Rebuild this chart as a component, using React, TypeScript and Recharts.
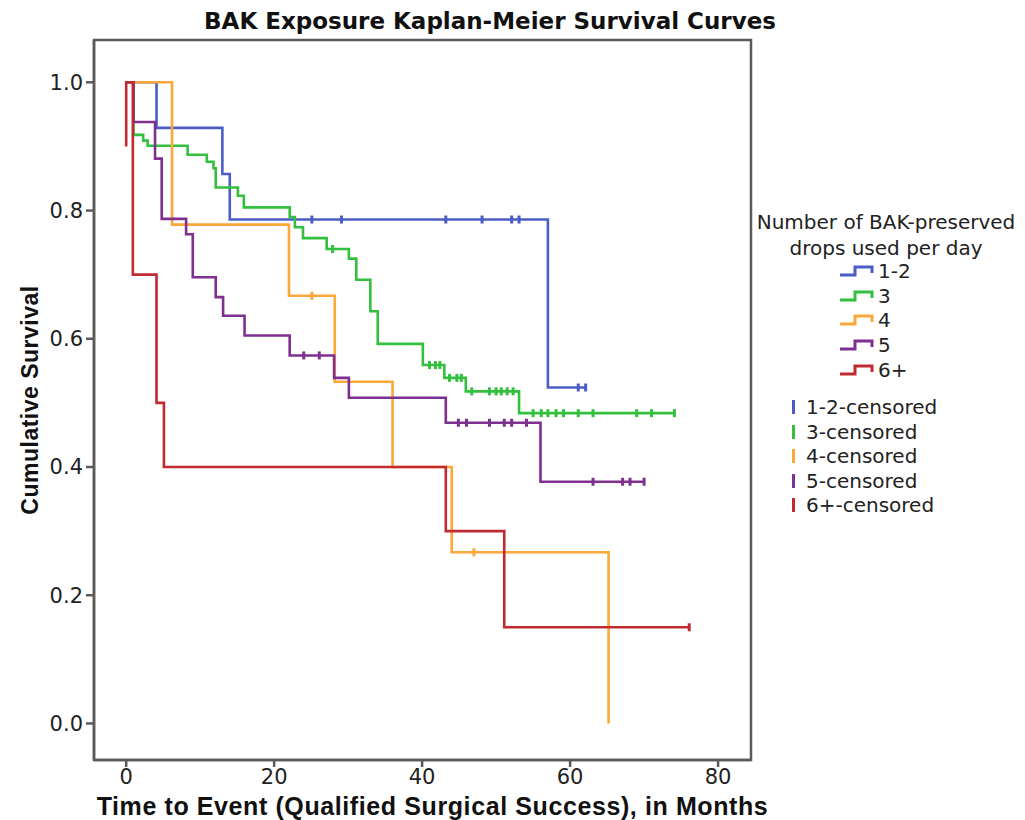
import React from "react";
import {
  ComposedChart,
  Line,
  Scatter,
  XAxis,
  YAxis,
  ReferenceArea,
} from "recharts";

// step points: survival value holds from each time until the next one
const blueTimes = [0, 4.1, 13.0, 14.0, 57.0, 62.1];
const blueSurv = [1.0, 0.929, 0.857, 0.786, 0.524, 0.524];
const blueCensored = [25.1, 29.1, 43.2, 48.1, 52.1, 53.1, 61.1, 62.1];

const greenTimes = [0, 1.0, 2.3, 2.9, 8.3, 10.9, 11.8, 12.1, 15.1, 15.9, 22.1, 22.8, 23.9, 27.1, 30.1, 31.1, 33.0, 34.0, 40.1, 43.0, 45.9, 53.1, 74.1];
const greenSurv = [1.0, 0.918, 0.909, 0.901, 0.887, 0.876, 0.866, 0.836, 0.823, 0.805, 0.79, 0.774, 0.757, 0.74, 0.725, 0.692, 0.643, 0.592, 0.559, 0.539, 0.518, 0.484, 0.484];
const greenCensored = [27.9, 41.0, 41.8, 42.4, 43.7, 44.7, 45.3, 46.7, 49.1, 50.0, 50.7, 51.5, 52.3, 55.0, 56.1, 57.0, 58.1, 59.1, 61.1, 63.1, 69.0, 71.0, 74.1];

const orangeTimes = [0, 6.2, 22.0, 28.2, 36.0, 44.0, 65.2];
const orangeSurv = [1.0, 0.778, 0.667, 0.533, 0.4, 0.267, 0];
const orangeCensored = [25.1, 47.0];

const purpleTimes = [0, 1.0, 3.9, 4.8, 8.1, 9.0, 12.1, 13.1, 16.0, 22.1, 28.1, 30.1, 43.2, 56.0, 70.0];
const purpleSurv = [1.0, 0.938, 0.881, 0.787, 0.763, 0.696, 0.665, 0.636, 0.605, 0.574, 0.539, 0.508, 0.469, 0.377, 0.377];
const purpleCensored = [24.0, 26.1, 44.9, 46.0, 49.1, 51.1, 52.1, 54.1, 63.1, 67.1, 68.1, 70.0];

const redTimes = [0, 0, 0.9, 4.1, 5.1, 43.2, 51.1, 76.1];
const redSurv = [0.9, 1.0, 0.7, 0.5, 0.4, 0.3, 0.15, 0.15];
const redCensored = [76.1];

const groupLabels = ["1-2", "3", "4", "5", "6+"];
const groupColors = ["#4b5cc6", "#33c03e", "#fba73a", "#7e2f8f", "#c12a31"];

const xTicks = [0, 20, 40, 60, 80];
const yTicks = [0, 0.2, 0.4, 0.6, 0.8, 1.0];
const xDomain = [-4.35, 84.45];
const yDomain = [-0.057, 1.066];

const toPoints = (times: number[], surv: number[]) =>
  times.map((t, i) => ({ x: t, y: surv[i] }));

const levelAt = (times: number[], surv: number[], t: number) => {
  let v = surv[0];
  times.forEach((tt, i) => {
    if (tt <= t) v = surv[i];
  });
  return v;
};

const series = [
  { times: blueTimes, surv: blueSurv, censored: blueCensored },
  { times: greenTimes, surv: greenSurv, censored: greenCensored },
  { times: orangeTimes, surv: orangeSurv, censored: orangeCensored },
  { times: purpleTimes, surv: purpleSurv, censored: purpleCensored },
  { times: redTimes, surv: redSurv, censored: redCensored },
];

const tickStyle = { fontSize: 21, fontFamily: "DejaVu Sans", fill: "#222" };
const axisGray = "#5a5a5a";

function censorShape(color: string) {
  return (props: any) => {
    const { cx, cy } = props;
    if (cx == null || cy == null) return <g />;
    return (
      <line x1={cx} x2={cx} y1={cy - 4} y2={cy + 4} stroke={color} strokeWidth={3} />
    );
  };
}

function StepIcon({ color }: { color: string }) {
  return (
    <svg width={36} height={12} style={{ display: "block" }}>
      <path d="M1,10 H16 V2 H33 V8" fill="none" stroke={color} strokeWidth={3} />
    </svg>
  );
}

const legendFont = { fontFamily: "DejaVu Sans", fontSize: 20, color: "#222" };

export default function App() {
  return (
    <div
      style={{
        position: "absolute",
        left: 0,
        top: 0,
        width: 1025,
        height: 820,
        background: "#fff",
      }}
    >
      <div
        style={{
          position: "absolute",
          left: 0,
          width: 980,
          top: 8,
          textAlign: "center",
          fontFamily: "DejaVu Sans",
          fontWeight: "bold",
          fontSize: 23,
          color: "#111",
        }}
      >
        BAK Exposure Kaplan-Meier Survival Curves
      </div>

      <ComposedChart
        width={1025}
        height={820}
        margin={{ top: 40, right: 274, bottom: 20, left: 34 }}
      >
        <XAxis
          type="number"
          dataKey="x"
          domain={xDomain}
          ticks={xTicks}
          allowDataOverflow
          height={40}
          tick={tickStyle}
          tickSize={7}
          tickMargin={2}
          stroke={axisGray}
          strokeWidth={2.5}
          label={{
            value: "Time to Event (Qualified Surgical Success), in Months",
            position: "insideBottom",
            offset: -15,
            dx: 10,
            style: {
              fontFamily: "Liberation Sans",
              fontWeight: "bold",
              fontSize: 25,
              letterSpacing: 0.6,
              fill: "#111",
            },
          }}
        />
        <YAxis
          type="number"
          dataKey="y"
          domain={yDomain}
          ticks={yTicks}
          allowDataOverflow
          width={60}
          tick={tickStyle}
          tickFormatter={(v: number) => v.toFixed(1)}
          tickSize={8}
          tickMargin={3}
          stroke={axisGray}
          strokeWidth={2.5}
          label={{
            value: "Cumulative Survival",
            angle: -90,
            position: "insideLeft",
            offset: -4,
            style: {
              textAnchor: "middle",
              fontFamily: "Liberation Sans",
              fontWeight: "bold",
              fontSize: 23,
              letterSpacing: 0.5,
              fill: "#111",
            },
          }}
        />
        <ReferenceArea
          x1={xDomain[0]}
          x2={xDomain[1]}
          y1={yDomain[0]}
          y2={yDomain[1]}
          fill="none"
          stroke={axisGray}
          strokeWidth={2.5}
          ifOverflow="visible"
        />
        {series.map((s, i) => (
          <Line
            key={"line" + i}
            data={toPoints(s.times, s.surv)}
            dataKey="y"
            type="stepAfter"
            stroke={groupColors[i]}
            strokeWidth={2.6}
            dot={false}
            isAnimationActive={false}
          />
        ))}
        {series.map((s, i) => (
          <Scatter
            key={"cens" + i}
            data={s.censored.map((t) => ({ x: t, y: levelAt(s.times, s.surv, t) }))}
            dataKey="y"
            shape={censorShape(groupColors[i])}
            isAnimationActive={false}
          />
        ))}
      </ComposedChart>

      <div style={{ position: "absolute", left: 750, top: 209, width: 272, textAlign: "center", lineHeight: "26px", ...legendFont }}>
        <div>Number of BAK-preserved</div>
        <div>drops used per day</div>
      </div>
      {groupLabels.map((g, i) => (
        <div
          key={"lg" + i}
          style={{
            position: "absolute",
            left: 839,
            top: [260, 285, 309, 334, 359][i],
            display: "flex",
            alignItems: "center",
            gap: 3,
            height: 22,
            ...legendFont,
          }}
        >
          <StepIcon color={groupColors[i]} />
          <span>{g}</span>
        </div>
      ))}
      {groupLabels.map((g, i) => (
        <div
          key={"lc" + i}
          style={{
            position: "absolute",
            left: 792,
            top: [396, 421, 445, 470, 494][i],
            display: "flex",
            alignItems: "center",
            gap: 11,
            height: 22,
            ...legendFont,
          }}
        >
          <div style={{ width: 3, height: 14, background: groupColors[i] }} />
          <span>{g}-censored</span>
        </div>
      ))}
    </div>
  );
}
